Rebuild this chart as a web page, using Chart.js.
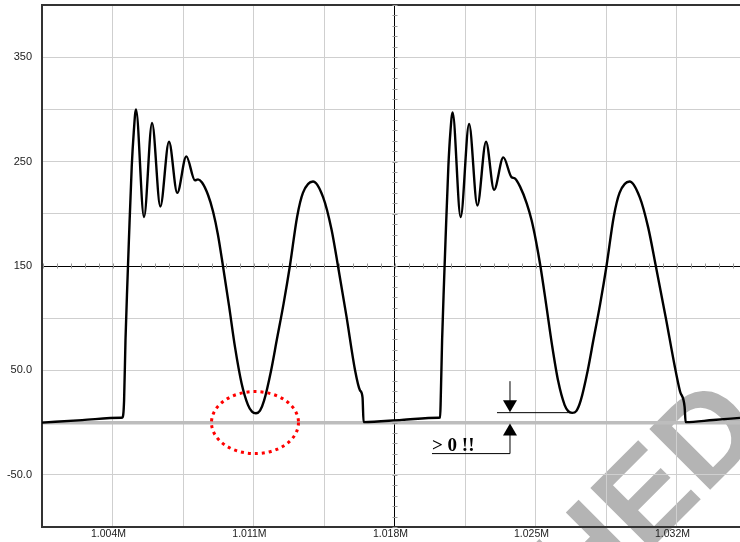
<!DOCTYPE html>
<html>
<head>
<meta charset="utf-8">
<script src="https://cdn.jsdelivr.net/npm/chart.js"></script>
<style>
  html, body { margin: 0; padding: 0; background: #fff; }
  #wrap { width: 740px; height: 542px; }
</style>
</head>
<body>
<div id="wrap"><canvas id="scope"></canvas></div>
<script>
// Signal trace, x in thousands (1004 -> 1.004M)
const xValues = [
  1000.475, 1002.47, 1004.40, 1004.47, 1004.55, 1004.62, 1004.72, 1004.79, 1004.93, 1005.03, 1005.14,
  1005.54, 1005.94, 1006.35, 1006.78, 1007.19, 1007.64, 1008.07, 1008.22, 1008.42,
  1008.72, 1008.97, 1009.21, 1009.46, 1009.76, 1010.06, 1010.38, 1010.70, 1010.90,
  1011.10, 1011.30, 1011.50, 1011.85, 1012.14, 1012.47, 1012.79, 1013.14, 1013.43,
  1013.93, 1014.43, 1014.85, 1015.17, 1015.59, 1016.02, 1016.26,
  1016.39, 1016.44, 1018.34, 1020.17,
  1020.24, 1020.27, 1020.34, 1020.44, 1020.51, 1020.65, 1020.75, 1020.86,
  1021.26, 1021.68, 1022.09, 1022.52, 1022.92, 1023.38, 1023.79, 1023.94, 1024.21,
  1024.54, 1024.78, 1025.00, 1025.22, 1025.50, 1025.80, 1026.10, 1026.42, 1026.60,
  1026.80, 1027.00, 1027.22, 1027.57, 1027.86, 1028.19, 1028.51, 1028.86, 1029.15,
  1029.65, 1030.15, 1030.57, 1030.95, 1031.45, 1031.88, 1032.15,
  1032.38, 1032.43, 1033.80, 1035.13
];
const yValues = [
  0, 2.4, 4.7, 4.8, 21, 79, 137, 175, 245, 278, 300,
  197, 287, 207, 269, 220, 255, 232, 233, 230,
  218, 202, 180, 150, 112, 72, 38, 17, 10.5,
  9, 11.5, 21, 50, 80, 114, 151, 197, 220,
  231, 216, 185, 150, 102, 50, 31,
  24, 0.5, 2.65, 4.7,
  4.8, 21, 79, 137, 175, 245, 278, 297,
  197, 286, 208, 269, 223, 254, 235, 234, 226,
  210, 194, 174, 150, 114, 74, 40, 17, 11,
  9.3, 11, 21, 50, 80, 114, 151, 197, 220,
  231, 216, 187, 150, 100, 55, 30,
  15, 0.5, 2.5, 4.5
];

// Axis ticks
const xGridTicks = [1004, 1007.5, 1011, 1014.5, 1018, 1021.5, 1025, 1028.5, 1032];
const xLabelTicks = [1004, 1011, 1018, 1025, 1032];
const yLabelTicks = [350, 250, 150, 50, -50];
const crossX = 1018;
const crossY = 150;

// Annotation anchors (data units)
const ringCenter = { x: 1011.05, y: 0 };
const arrowX = 1023.71;
const gapY = 10;
const noteText = '> 0 !!';
const stampText = 'UNPUBLISHED';

const near = (a, b) => Math.abs(a - b) < 1e-6;

function arrowHead(ctx, x, tipY, dir) {
  ctx.beginPath();
  ctx.moveTo(x, tipY);
  ctx.lineTo(x - 7, tipY - dir * 12);
  ctx.lineTo(x + 7, tipY - dir * 12);
  ctx.closePath();
  ctx.fill();
}

const extras = {
  id: 'extras',
  beforeDraw(chart) {
    const ctx = chart.ctx;
    ctx.save();
    ctx.fillStyle = '#fff';
    ctx.fillRect(0, 0, chart.width, chart.height);
    // watermark
    ctx.translate(768, 432);
    ctx.rotate(-45 * Math.PI / 180);
    ctx.font = 'bold 125px "Liberation Sans", Arial, sans-serif';
    ctx.fillStyle = '#b4b4b4';
    ctx.textAlign = 'right';
    ctx.fillText(stampText, 0, 0);
    ctx.restore();
  },
  beforeDatasetsDraw(chart) {
    const { ctx, chartArea, scales: { x, y } } = chart;
    ctx.save();
    // top border
    ctx.strokeStyle = '#333';
    ctx.lineWidth = 2;
    ctx.beginPath();
    ctx.moveTo(chartArea.left, chartArea.top);
    ctx.lineTo(chartArea.right, chartArea.top);
    ctx.stroke();
    // minor ticks on the cross hair
    const cx = x.getPixelForValue(crossX);
    const cy = y.getPixelForValue(crossY);
    ctx.strokeStyle = '#999';
    ctx.lineWidth = 1;
    ctx.beginPath();
    for (let v = -100; v <= 400; v += 10) {
      const py = Math.round(y.getPixelForValue(v)) + 0.5;
      ctx.moveTo(cx - 2.5, py);
      ctx.lineTo(cx + 2.5, py);
    }
    for (let v = 1000.5; v <= 1035.5; v += 0.7) {
      const px = Math.round(x.getPixelForValue(v)) + 0.5;
      ctx.moveTo(px, cy - 2.5);
      ctx.lineTo(px, cy + 2.5);
    }
    ctx.stroke();
    ctx.restore();
  },
  afterDatasetsDraw(chart) {
    const { ctx, scales: { x, y } } = chart;
    ctx.save();
    // red dotted ring
    ctx.strokeStyle = '#ff0000';
    ctx.lineWidth = 3;
    ctx.setLineDash([3, 4]);
    ctx.beginPath();
    ctx.ellipse(x.getPixelForValue(ringCenter.x), y.getPixelForValue(ringCenter.y), 43.5, 31, 0, 0, Math.PI * 2);
    ctx.stroke();
    ctx.setLineDash([]);

    // gap arrows
    const ax = x.getPixelForValue(arrowX);
    const gy = y.getPixelForValue(gapY);
    const zy = y.getPixelForValue(0);
    ctx.strokeStyle = '#000';
    ctx.fillStyle = '#000';
    ctx.lineWidth = 1;
    ctx.beginPath();
    ctx.moveTo(ax, gy - 31);
    ctx.lineTo(ax, gy - 8);
    ctx.moveTo(ax - 13, gy + 0.5);
    ctx.lineTo(x.getPixelForValue(1026.8), gy + 0.5);
    ctx.moveTo(ax, zy + 12);
    ctx.lineTo(ax, zy + 31);
    ctx.lineTo(ax - 78, zy + 31);
    ctx.stroke();
    arrowHead(ctx, ax, gy, 1);
    arrowHead(ctx, ax, zy + 1, -1);

    ctx.font = 'bold 19px "Liberation Serif", "Times New Roman", serif';
    ctx.textAlign = 'left';
    ctx.textBaseline = 'alphabetic';
    ctx.fillText(noteText, ax - 78, zy + 28);
    ctx.restore();
  }
};

new Chart(document.getElementById('scope'), {
  type: 'line',
  data: {
    datasets: [{
      data: xValues.map((v, i) => ({ x: v, y: yValues[i] })),
      borderColor: '#000',
      borderWidth: 2.4,
      pointRadius: 0,
      cubicInterpolationMode: 'monotone',
      fill: false
    }]
  },
  options: {
    responsive: true,
    maintainAspectRatio: false,
    animation: false,
    layout: { padding: { top: 5, right: 0, left: 0, bottom: 0 } },
    plugins: { legend: { display: false }, tooltip: { enabled: false } },
    scales: {
      x: {
        type: 'linear',
        min: 1000.475,
        max: 1035.13,
        afterBuildTicks: scale => { scale.ticks = xGridTicks.map(v => ({ value: v })); },
        afterFit: scale => { scale.height = 15; scale.paddingLeft = 0; scale.paddingRight = 0; },
        border: { color: '#333', width: 2 },
        grid: {
          drawTicks: false,
          color: ctx => (ctx.tick && near(ctx.tick.value, crossX)) ? '#000' : '#cfcfcf',
          lineWidth: 1
        },
        ticks: {
          autoSkip: false,
          maxRotation: 0,
          padding: 1,
          labelOffset: -4.5,
          color: '#222',
          font: { family: '"Liberation Sans", Arial, sans-serif', size: 10.5 },
          callback: v => xLabelTicks.some(t => near(t, v)) ? (v / 1000).toFixed(3) + 'M' : ''
        }
      },
      y: {
        min: -100,
        max: 400,
        afterFit: scale => { scale.width = 42; scale.paddingTop = 0; scale.paddingBottom = 0; },
        border: { color: '#333', width: 2 },
        grid: {
          drawTicks: false,
          color: ctx => {
            const v = ctx.tick ? ctx.tick.value : null;
            if (v === 0) return '#bdbdbd';
            if (v === crossY) return '#000';
            return '#cfcfcf';
          },
          lineWidth: ctx => (ctx.tick && ctx.tick.value === 0) ? 3.5 : 1
        },
        ticks: {
          stepSize: 50,
          padding: 10,
          color: '#222',
          font: { family: '"Liberation Sans", Arial, sans-serif', size: 11 },
          callback: v => yLabelTicks.includes(v) ? (Math.abs(v) >= 100 ? String(v) : v.toFixed(1)) : ''
        }
      }
    }
  },
  plugins: [extras]
});
</script>
</body>
</html>
